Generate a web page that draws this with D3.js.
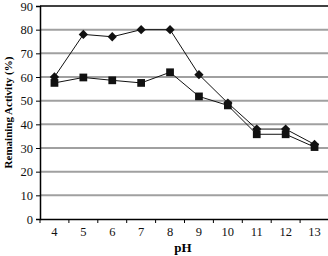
<!DOCTYPE html>
<html>
<head>
<meta charset="utf-8">
<script src="https://cdn.jsdelivr.net/npm/d3@7"></script>
<style>
  body { margin: 0; background: #fff; }
  text { font-family: "Liberation Serif", "Times New Roman", serif; }
</style>
</head>
<body>
<div id="chart"></div>
<script>
const phValues = [4, 5, 6, 7, 8, 9, 10, 11, 12, 13];
const diamondSeries = [60, 78, 77, 80, 80, 61, 49, 38, 38, 31.5];
const squareSeries = [57.5, 59.8, 58.6, 57.5, 62, 51.8, 48, 35.8, 35.8, 30.4];
const yTicks = [0, 10, 20, 30, 40, 50, 60, 70, 80, 90];

const width = 328, height = 256;
const margin = {top: 6, right: -1, bottom: 37, left: 40};

const svg = d3.select("#chart")
    .append("svg")
    .attr("width", width)
    .attr("height", height);

const x = d3.scaleBand()
    .domain(phValues)
    .range([margin.left, width - margin.right]);

const y = d3.scaleLinear()
    .domain([0, 90])
    .range([height - margin.bottom, margin.top]);

// gridlines
svg.append("g")
    .selectAll("line")
    .data(yTicks.filter(d => d > 0 && d < 90))
    .join("line")
    .attr("x1", margin.left)
    .attr("x2", width)
    .attr("y1", d => y(d))
    .attr("y2", d => y(d))
    .attr("stroke", "#a0a0a0")
    .attr("stroke-width", 2);

// top border
svg.append("line")
    .attr("x1", margin.left).attr("x2", width)
    .attr("y1", y(90)).attr("y2", y(90))
    .attr("stroke", "#000").attr("stroke-width", 1.5);

// y axis
const yAxis = svg.append("g")
    .attr("transform", `translate(${margin.left},0)`)
    .call(d3.axisLeft(y).tickValues(yTicks).tickSize(4).tickPadding(3));
yAxis.select(".domain").attr("stroke-width", 1.5);
yAxis.selectAll("text").style("font-size", "12.5px").attr("fill", "#111");

// x axis
const xAxis = svg.append("g")
    .attr("transform", `translate(0,${y(0)})`)
    .call(d3.axisBottom(x).tickSize(0).tickPadding(8));
xAxis.select(".domain").attr("stroke-width", 1.5);
xAxis.selectAll("text").style("font-size", "12.5px").attr("fill", "#111");

// x tick marks between categories
svg.append("g")
    .selectAll("line")
    .data(phValues)
    .join("line")
    .attr("x1", d => x(d))
    .attr("x2", d => x(d))
    .attr("y1", y(0))
    .attr("y2", y(0) + 4)
    .attr("stroke", "#000");

const line = d3.line()
    .x((d, i) => x(phValues[i]) + x.bandwidth() / 2)
    .y(d => y(d));

// diamond series
svg.append("path")
    .datum(diamondSeries)
    .attr("d", line)
    .attr("fill", "none")
    .attr("stroke", "#111")
    .attr("stroke-width", 1);

// square series
svg.append("path")
    .datum(squareSeries)
    .attr("d", line)
    .attr("fill", "none")
    .attr("stroke", "#111")
    .attr("stroke-width", 1);

const diamond = d3.symbol().type(d3.symbolDiamond2).size(55);
const square = d3.symbol().type(d3.symbolSquare).size(60);

svg.append("g")
    .selectAll("path")
    .data(squareSeries)
    .join("path")
    .attr("d", square)
    .attr("transform", (d, i) => `translate(${x(phValues[i]) + x.bandwidth() / 2},${y(d)})`)
    .attr("fill", "#111");

svg.append("g")
    .selectAll("path")
    .data(diamondSeries)
    .join("path")
    .attr("d", diamond)
    .attr("transform", (d, i) => `translate(${x(phValues[i]) + x.bandwidth() / 2},${y(d)})`)
    .attr("fill", "#111");

// axis titles
svg.append("text")
    .attr("x", (margin.left + width) / 2 - 1)
    .attr("y", 252)
    .attr("text-anchor", "middle")
    .style("font-size", "13px")
    .style("font-weight", "bold")
    .text("pH");

svg.append("text")
    .attr("transform", `translate(12,${(margin.top + y(0)) / 2}) rotate(-90)`)
    .attr("text-anchor", "middle")
    .style("font-size", "11px")
    .style("font-weight", "bold")
    .text("Remaining Activity (%)");
</script>
</body>
</html>
